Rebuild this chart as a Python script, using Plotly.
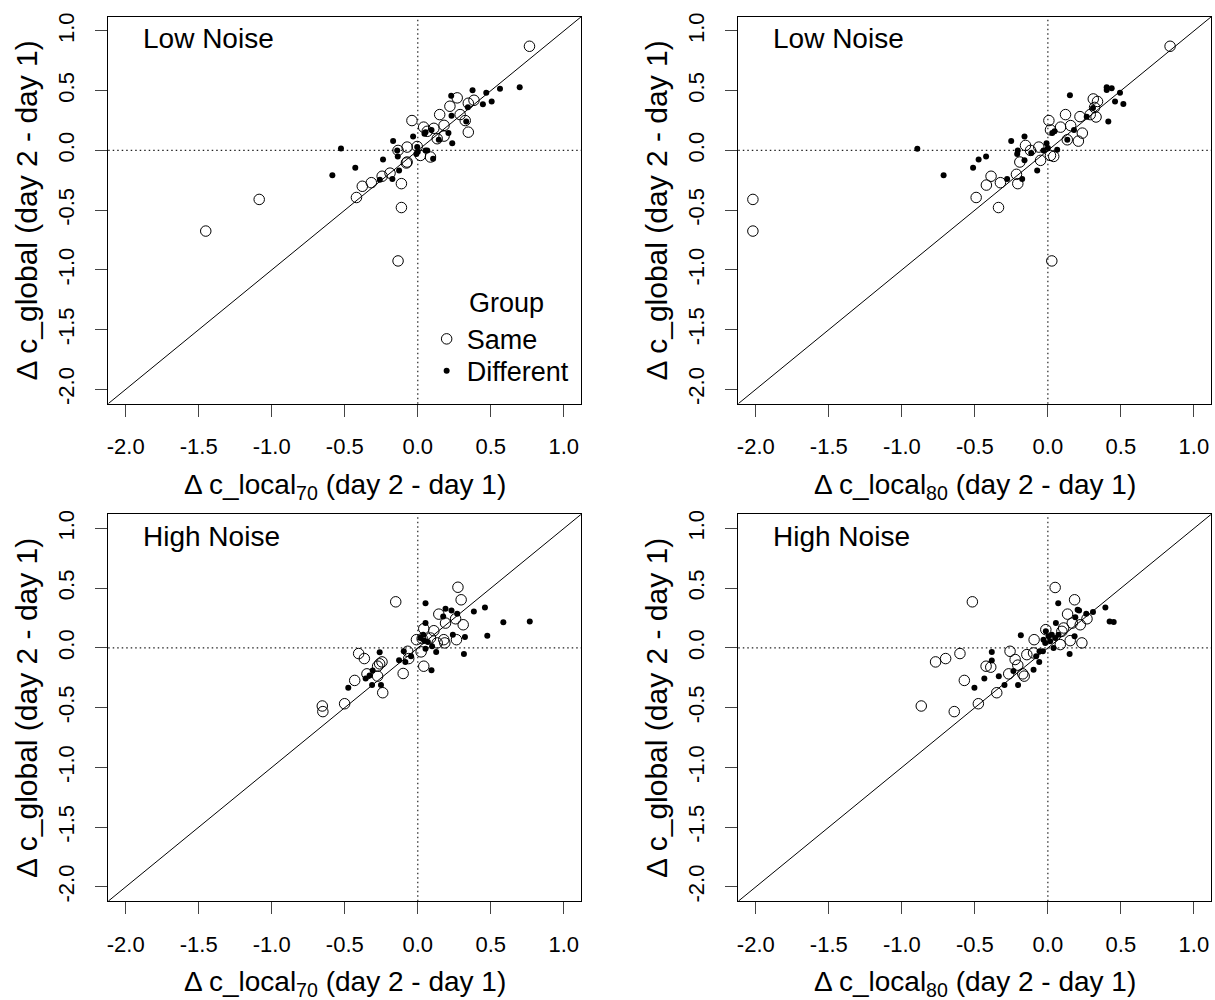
import plotly.graph_objects as go

# ---------------- data ----------------
TICK_VALS = [-2.0, -1.5, -1.0, -0.5, 0.0, 0.5, 1.0]
TICK_TEXT = ["-2.0", "-1.5", "-1.0", "-0.5", "0.0", "0.5", "1.0"]
AX_RANGE = [-2.12, 1.12]

panel_labels = ["Low Noise", "Low Noise", "High Noise", "High Noise"]
x_titles = ["Δ c_local<sub>70</sub> (day 2 - day 1)",
            "Δ c_local<sub>80</sub> (day 2 - day 1)",
            "Δ c_local<sub>70</sub> (day 2 - day 1)",
            "Δ c_local<sub>80</sub> (day 2 - day 1)"]
y_title = "Δ c_global (day 2 - day 1)"
legend_title = "Group"
group_names = ["Same", "Different"]

# Panel 1: Low noise, local70
same_x1 = [0.765, -0.04, 0.27, 0.385, 0.346, 0.15, 0.18, 0.18, 0.325, 0.346, 0.04, 0.065, 0.133,
           -0.004, -0.073, -0.073, 0.018, 0.087, -0.19, -0.244, -0.318, -0.38, -0.42, -0.112,
           -0.112, -0.135, -1.086, -1.452, -0.135, -0.078, 0.22, 0.11, 0.29]
same_y1 = [0.872, 0.25, 0.44, 0.42, 0.395, 0.30, 0.21, 0.12, 0.25, 0.153, 0.195, 0.16, 0.098,
           0.033, 0.028, -0.097, -0.042, -0.055, -0.19, -0.216, -0.27, -0.30, -0.394, -0.278,
           -0.478, -0.925, -0.41, -0.675, 0.0, -0.105, 0.37, 0.185, 0.30]
diff_x1 = [-0.526, -0.585, -0.428, -0.238, -0.169, -0.141, -0.137, -0.128, -0.174, -0.26, -0.032,
           -0.004, 0.0, -0.01, 0.065, 0.105, 0.046, 0.094, 0.144, 0.21, 0.236, 0.229, 0.231, 0.332,
           0.343, 0.375, 0.446, 0.469, 0.506, 0.563, 0.698, 0.053, 0.053]
diff_y1 = [0.017, -0.208, -0.144, -0.075, 0.078, 0.0, -0.05, -0.167, -0.24, -0.245, 0.117,
           0.028, -0.01, -0.03, 0.0, -0.07, 0.139, 0.172, 0.089, 0.145, 0.061, 0.458, 0.29, 0.242,
           0.361, 0.503, 0.386, 0.483, 0.41, 0.517, 0.528, 0.153, 0.0]

# Panel 2: Low noise, local80
same_x2 = [0.837, 0.311, 0.34, 0.32, 0.29, 0.33, 0.121, 0.22, 0.087, 0.156, 0.007, 0.018, 0.236,
           0.209, 0.133, -0.153, -0.119, -0.062, -0.05, 0.018, 0.04, -0.192, -0.215, -0.206,
           -0.389, -0.421, -0.325, -0.491, -0.338, 0.027, -2.02, -2.02]
same_y2 = [0.872, 0.431, 0.41, 0.36, 0.30, 0.28, 0.30, 0.283, 0.195, 0.208, 0.25, 0.172, 0.145,
           0.078, 0.089, 0.042, 0.0, 0.028, -0.083, -0.042, -0.05, -0.097, -0.2, -0.278,
           -0.216, -0.29, -0.27, -0.394, -0.478, -0.925, -0.41, -0.675]
diff_x2 = [-0.894, -0.714, -0.512, -0.474, -0.423, -0.251, -0.16, -0.206, -0.21, -0.16, -0.114,
           -0.073, -0.279, -0.176, -0.009, 0.0, -0.03, 0.064, 0.03, 0.046, 0.133, 0.179, 0.151,
           0.266, 0.309, 0.403, 0.437, 0.403, 0.46, 0.494, 0.517, 0.414]
diff_y2 = [0.014, -0.208, -0.144, -0.075, -0.05, 0.078, 0.117, 0.0, -0.03, -0.083, -0.022,
           -0.167, -0.24, -0.24, 0.061, 0.02, 0.0, 0.006, 0.145, 0.16, 0.089, 0.172, 0.461,
           0.283, 0.356, 0.528, 0.52, 0.505, 0.41, 0.483, 0.389, 0.242]

# Panel 3: High noise, local70
same_x3 = [0.275, 0.297, -0.151, 0.144, 0.19, 0.259, 0.311, 0.041, 0.11, 0.03, 0.087, 0.178,
           0.185, 0.265, 0.133, -0.009, 0.023, -0.069, -0.062, 0.041, -0.1, -0.405, -0.366,
           -0.261, -0.245, -0.275, -0.348, -0.275, -0.432, -0.24, -0.501, -0.654, -0.65]
same_y3 = [0.508, 0.403, 0.386, 0.283, 0.208, 0.244, 0.194, 0.161, 0.144, 0.078, 0.083, 0.069,
           0.042, 0.069, 0.042, 0.069, -0.033, -0.028, -0.089, -0.153, -0.214, -0.047, -0.089,
           -0.133, -0.117, -0.153, -0.217, -0.236, -0.272, -0.375, -0.467, -0.486, -0.533]
diff_x3 = [0.053, 0.19, 0.231, 0.27, 0.174, 0.384, 0.46, 0.586, 0.767, 0.053, 0.24, 0.323, 0.476,
           0.316, 0.037, 0.018, 0.046, 0.069, 0.053, 0.098, 0.126, 0.094, -0.096, -0.128, -0.085,
           -0.046, -0.261, -0.309, -0.33, -0.357, -0.313, -0.252, -0.476]
diff_y3 = [0.375, 0.328, 0.314, 0.286, 0.264, 0.306, 0.339, 0.214, 0.222, 0.208, 0.111, 0.092,
           0.103, -0.05, 0.111, 0.083, 0.061, 0.05, -0.006, 0.014, -0.033, -0.186, -0.028, -0.103,
           -0.117, -0.069, -0.036, -0.189, -0.231, -0.256, -0.311, -0.311, -0.333]

# Panel 4: High noise, local80
same_x4 = [0.05, 0.183, -0.517, 0.135, 0.222, 0.268, 0.167, -0.014, 0.108, 0.096, -0.094, 0.153,
           0.233, 0.085, -0.259, -0.144, -0.098, -0.224, -0.206, -0.423, -0.391, -0.602, -0.7,
           -0.769, -0.268, -0.172, -0.162, -0.572, -0.35, -0.476, -0.867, -0.641]
same_y4 = [0.506, 0.403, 0.386, 0.283, 0.194, 0.244, 0.208, 0.153, 0.167, 0.139, 0.069, 0.061,
           0.042, 0.028, -0.028, -0.056, -0.042, -0.097, -0.144, -0.153, -0.161, -0.047, -0.089,
           -0.117, -0.217, -0.217, -0.236, -0.272, -0.375, -0.467, -0.486, -0.533]
diff_x4 = [0.071, 0.204, 0.214, 0.263, 0.309, 0.394, 0.423, 0.451, 0.188, 0.055, -0.185, -0.014,
           0.005, 0.027, 0.05, -0.03, -0.018, 0.016, 0.039, 0.073, 0.183, 0.149, -0.057, -0.034,
           -0.08, -0.059, -0.098, -0.384, -0.384, -0.336, -0.435, -0.297, -0.204, -0.503, -0.236]
diff_y4 = [0.375, 0.319, 0.314, 0.286, 0.3, 0.339, 0.222, 0.217, 0.256, 0.208, 0.106, 0.139,
           0.097, 0.111, 0.083, 0.069, 0.042, 0.056, 0.0, 0.111, 0.097, -0.05, -0.028, -0.028,
           -0.069, -0.117, -0.183, -0.033, -0.106, -0.236, -0.256, -0.311, -0.311, -0.333, -0.194]

panels = [
    (same_x1, same_y1, diff_x1, diff_y1),
    (same_x2, same_y2, diff_x2, diff_y2),
    (same_x3, same_y3, diff_x3, diff_y3),
    (same_x4, same_y4, diff_x4, diff_y4),
]

# ---------------- layout geometry ----------------
W, H = 1215, 1000
FONT = "Liberation Sans, Arial, Helvetica, sans-serif"


def fx(px):
    return px / W


def fy(py):
    return 1 - py / H


x_px = [(107.3, 580.8), (737.9, 1211.4), (107.3, 580.8), (737.9, 1211.4)]
y_px = [(12.7, 401.7), (12.7, 401.7), (512.7, 901.7), (512.7, 901.7)]

fig = go.Figure()
layout = dict(
    width=W, height=H,
    margin=dict(l=0, r=0, t=0, b=0),
    paper_bgcolor="white", plot_bgcolor="white",
    font=dict(family=FONT, color="black", size=22),
    showlegend=True,
)
shapes = []
annotations = []

for i, (sx, sy, dx, dy) in enumerate(panels):
    n = "" if i == 0 else str(i + 1)
    xa, ya = "x" + n, "y" + n
    (x0, x1), (y0, y1) = x_px[i], y_px[i]
    common = dict(
        range=AX_RANGE, tickvals=TICK_VALS, ticktext=TICK_TEXT,
        showgrid=False, zeroline=False, showline=True, mirror=True,
        linecolor="black", linewidth=1, ticks="outside", ticklen=12,
        tickwidth=1, tickcolor="#444", tickfont=dict(size=22, family=FONT),
    )
    layout["xaxis" + n] = dict(common, domain=[fx(x0), fx(x1)], anchor=ya,
                               ticklabelstandoff=11)
    layout["yaxis" + n] = dict(common, domain=[fy(y1), fy(y0)], anchor=xa,
                               tickangle=-90, ticklabelstandoff=12)

    # reference lines
    shapes.append(dict(type="line", xref=xa, yref=ya, x0=AX_RANGE[0], y0=AX_RANGE[0],
                       x1=AX_RANGE[1], y1=AX_RANGE[1], line=dict(color="black", width=1),
                       layer="below"))
    shapes.append(dict(type="line", xref=xa, yref=ya + " domain", x0=0, x1=0, y0=0, y1=1,
                       line=dict(color="#222", width=1.2, dash="1.5px,3px"), layer="below"))
    shapes.append(dict(type="line", xref=xa + " domain", yref=ya, x0=0, x1=1, y0=0, y1=0,
                       line=dict(color="#222", width=1.2, dash="1.5px,3px"), layer="below"))

    fig.add_trace(go.Scatter(
        x=sx, y=sy, xaxis=xa, yaxis=ya, mode="markers", name=group_names[0],
        legend="legend", showlegend=(i == 0),
        marker=dict(symbol="circle-open", size=10.5, color="black", line=dict(width=1)),
        hoverinfo="skip"))
    fig.add_trace(go.Scatter(
        x=dx, y=dy, xaxis=xa, yaxis=ya, mode="markers", name=group_names[1],
        legend="legend2", showlegend=(i == 0),
        marker=dict(symbol="circle", size=6, color="black"),
        hoverinfo="skip"))

    # panel label
    annotations.append(dict(text=panel_labels[i], xref="paper", yref="paper",
                            x=fx(x0 + 33), y=fy(y0 + 22),
                            xanchor="left", yanchor="middle", showarrow=False,
                            font=dict(size=28, family=FONT)))
    # x-axis title
    annotations.append(dict(text=x_titles[i], xref="paper", yref="paper",
                            x=fx((x0 + x1) / 2), y=fy(y1 + 83),
                            xanchor="center", yanchor="middle", showarrow=False,
                            font=dict(size=28, family=FONT)))
    # y-axis title
    annotations.append(dict(text=y_title, xref="paper", yref="paper",
                            x=fx(x0 - 82), y=fy((y0 + y1) / 2),
                            xanchor="center", yanchor="middle", showarrow=False,
                            textangle=-90, font=dict(size=30, family=FONT)))

# legend title
annotations.append(dict(text=legend_title, xref="paper", yref="paper",
                        x=fx(506), y=fy(300), xanchor="center", yanchor="middle",
                        showarrow=False, font=dict(size=27, family=FONT)))

layout["shapes"] = shapes
layout["annotations"] = annotations
leg_common = dict(xanchor="left", yanchor="middle", bgcolor="rgba(0,0,0,0)", borderwidth=0,
                  font=dict(size=27, family=FONT), itemsizing="trace")
layout["legend"] = dict(leg_common, x=fx(426), y=fy(337))
layout["legend2"] = dict(leg_common, x=fx(426), y=fy(369))
fig.update_layout(**layout)

fig.write_html(
    "out.html",
    config={"displayModeBar": False},
    post_script="document.body.style.margin='0px';document.body.style.overflow='hidden';",
)
